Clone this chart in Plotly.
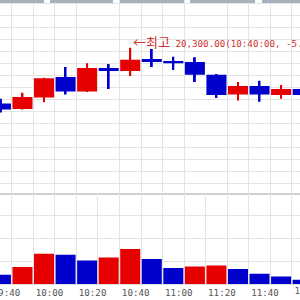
import plotly.graph_objects as go

# ---- data (10-minute candles) ----
times = ["09:40", "09:50", "10:00", "10:10", "10:20", "10:30", "10:40", "10:50",
         "11:00", "11:10", "11:20", "11:30", "11:40", "11:50", "12:00"]
opens = [19370, 19280, 19470, 19810, 19570, 19960, 19910, 20110,
         20080, 20060, 19850, 19520, 19660, 19510, 19610]
closes = [19270, 19480, 19790, 19570, 19960, 19910, 20100, 20060,
          20040, 19850, 19510, 19660, 19520, 19610, 19510]
highs = [19450, 19550, 19800, 19980, 20040, 20030, 20300, 20280,
         20150, 20140, 19860, 19730, 19750, 19680, 19640]
lows = [19220, 19270, 19390, 19520, 19560, 19610, 19830, 19980,
        19930, 19730, 19460, 19420, 19400, 19450, 19480]
volumes = [10170, 18580, 33120, 32020, 25790, 29070, 38250, 27320,
           17490, 19240, 20330, 16390, 11260, 8310, 4700]
high_note_pct = "-5.17%"

UP = "#e60000"
DOWN = "#0000cc"

n = len(times)
centers = [i + 0.5 for i in range(n)]
candle_colors = [UP if c > o else DOWN for o, c in zip(opens, closes)]
body_base = [min(o, c) for o, c in zip(opens, closes)]
body_h = [abs(c - o) for o, c in zip(opens, closes)]
wick_h = [h - l for h, l in zip(highs, lows)]
vol_colors = [DOWN] + [UP if volumes[i] > volumes[i - 1] else DOWN for i in range(1, n)]

fig = go.Figure()
# wicks
fig.add_trace(go.Bar(x=centers, y=wick_h, base=lows, width=0.09,
                     marker=dict(color=candle_colors, line=dict(width=0)),
                     xaxis="x", yaxis="y", hoverinfo="skip"))
# bodies
fig.add_trace(go.Bar(x=centers, y=body_h, base=body_base, width=0.93,
                     marker=dict(color=candle_colors, line=dict(width=0)),
                     xaxis="x", yaxis="y", hoverinfo="skip"))
# volume
fig.add_trace(go.Bar(x=centers, y=volumes, width=0.93,
                     marker=dict(color=vol_colors, line=dict(width=0)),
                     xaxis="x2", yaxis="y2", hoverinfo="skip"))

x_range = [0.457, 14.378]
px_per_slot = 300 / (x_range[1] - x_range[0])
label_off = 0.754           # label centre offset inside a slot
label_idx = list(range(0, n, 2))
main_idx = [i for i in label_idx if i + label_off <= x_range[1]]
edge_idx = [i for i in label_idx if i + label_off > x_range[1]]
edge_tick = x_range[1] - 0.08
GRID = "#e4e4e4"
TICKFONT = dict(family="DejaVu Sans Mono, Noto Sans CJK KR", size=9.2, color="#555555")

split = 91.5 / 284

minor_grid = dict(tick0=0, dtick=1, showgrid=True, gridcolor=GRID, gridwidth=1, ticks="")

imax = highs.index(max(highs))
note = ('<span style="font-family:Noto Sans CJK KR;font-size:13px">←최고</span> '
        f'{highs[imax]:,.2f}({times[imax]}:00, {high_note_pct})')

layout_axes = dict(
    xaxis=dict(range=x_range, anchor="y", showgrid=False, zeroline=False, ticks="",
               showticklabels=False, minor=minor_grid, automargin=False,
               showline=True, linecolor="#cfcfcf", linewidth=2, fixedrange=True),
    xaxis2=dict(range=x_range, anchor="y2", showgrid=False, zeroline=False, ticks="",
                tickvals=[i + label_off for i in main_idx],
                ticktext=[times[i] for i in main_idx], automargin=False,
                ticklabeloverflow="allow", tickfont=TICKFONT, minor=minor_grid,
                showline=True, linecolor="#e0e0e0", linewidth=1, fixedrange=True),
    yaxis=dict(domain=[split, 1], range=[17887, 21095], tick0=20845, dtick=200,
               showgrid=True, gridcolor=GRID, zeroline=False, showticklabels=False,
               ticks="", fixedrange=True, automargin=False),
    yaxis2=dict(domain=[0, split], range=[0, 100000], dtick=25000,
                showgrid=True, gridcolor=GRID, zeroline=False, showticklabels=False,
                ticks="", fixedrange=True, automargin=False),
)
if edge_idx:
    i = edge_idx[0]
    layout_axes["xaxis3"] = dict(
        range=x_range, anchor="y2", overlaying="x2", showgrid=False, zeroline=False,
        ticks="", tickvals=[edge_tick], ticktext=[times[i]], automargin=False,
        ticklabelshift=int(round((i + label_off - edge_tick) * px_per_slot)),
        ticklabeloverflow="allow", tickfont=TICKFONT, fixedrange=True)
    # invisible anchor trace so the overlay axis is drawn
    fig.add_trace(go.Scatter(x=[edge_tick], y=[0], xaxis="x3", yaxis="y2",
                             mode="markers", marker=dict(opacity=0),
                             hoverinfo="skip", showlegend=False))

fig.update_layout(
    width=300, height=300,
    margin=dict(l=0, r=0, t=0, b=16, autoexpand=False),
    paper_bgcolor="white", plot_bgcolor="white",
    barmode="overlay", showlegend=False,
    annotations=[dict(x=centers[imax], y=highs[imax], xref="x", yref="y",
                      text=note, showarrow=False, xanchor="left", yanchor="middle",
                      xshift=1, yshift=6,
                      font=dict(family="DejaVu Sans Mono, Noto Sans CJK KR", size=9.2,
                                color="#d03030"))],
    **layout_axes,
)

# top tab strip
tabs = [(0, 44), (50, 113), (120, 184), (190, 255), (262, 300)]
for a, b in tabs:
    fig.add_shape(type="rect", xref="paper", yref="paper", x0=a / 300, x1=b / 300,
                  y0=1 - 3 / 284, y1=1, fillcolor="#a9b0bd", line=dict(width=0), layer="above")

fig.write_html("out.html")
